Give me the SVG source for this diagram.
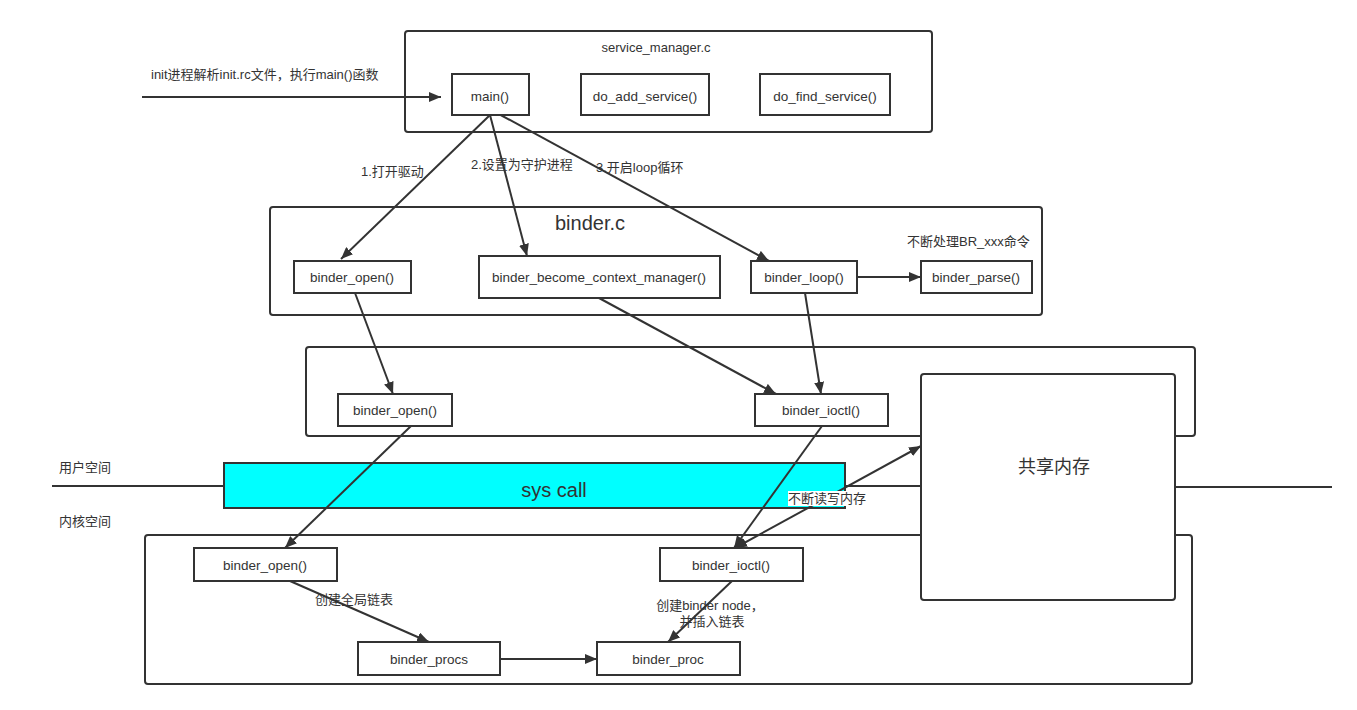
<svg xmlns="http://www.w3.org/2000/svg" width="1357" height="710" viewBox="0 0 1357 710">
<defs>
<marker id="ah" viewBox="0 0 12 10" refX="12" refY="5" markerWidth="12" markerHeight="10" markerUnits="userSpaceOnUse" orient="auto-start-reverse">
<path d="M0,0 L12,5 L0,10 Z" fill="#333"/>
</marker>
<style>
.cont{fill:#fff;stroke:#333;stroke-width:2}
.node{fill:#fff;stroke:#333;stroke-width:2}
.t{font-family:"Liberation Sans","Noto Sans CJK SC",sans-serif;font-size:13.5px;fill:#333;text-anchor:middle;dominant-baseline:central}
.lbl{font-family:"Liberation Sans","Noto Sans CJK SC",sans-serif;font-size:13px;fill:#333;dominant-baseline:central}
.ln{fill:none;stroke:#333;stroke-width:2}
.arr{fill:none;stroke:#333;stroke-width:2;marker-end:url(#ah)}
</style>
</defs>
<rect width="1357" height="710" fill="#fff"/>
<g id="containers">
<rect id="sm-container" class="cont" x="405" y="31" width="527" height="101" rx="3"/>
<rect id="binderc-container" class="cont" x="270" y="207" width="772" height="108" rx="3"/>
<rect id="mid-container" class="cont" x="306" y="347" width="889" height="89" rx="3"/>
<rect id="kernel-container" class="cont" x="145" y="535" width="1047" height="149" rx="3"/>
<text class="t" x="656" y="47" style="font-size:13px">service_manager.c</text>
<text class="t" x="590" y="223" style="font-size:20px">binder.c</text>
</g>
<g id="space-lines">
<line class="ln" x1="52" y1="486" x2="224" y2="486"/>
<line class="ln" x1="845" y1="486" x2="921" y2="486"/>
<line class="ln" x1="1175" y1="487" x2="1332" y2="487"/>
<text class="lbl" x="59" y="467">用户空间</text>
<text class="lbl" x="59" y="521">内核空间</text>
</g>
<g id="syscall">
<rect x="224" y="463" width="621" height="45" fill="#00ffff" stroke="#333" stroke-width="2"/>
<text class="t" x="554" y="490" style="font-size:20px">sys call</text>
</g>
<g id="connectors">
<line class="arr" x1="142" y1="97" x2="441" y2="97"/>
<line class="arr" x1="490" y1="115" x2="341" y2="259"/>
<line class="arr" x1="490" y1="115" x2="527" y2="256"/>
<line class="arr" x1="497" y1="113" x2="769" y2="261"/>
<line class="arr" x1="857" y1="277" x2="921" y2="277"/>
<line class="arr" x1="355" y1="293" x2="393" y2="394"/>
<line class="arr" x1="599" y1="298" x2="776" y2="394"/>
<line class="arr" x1="805" y1="293" x2="821" y2="394"/>
<line class="arr" x1="411" y1="426" x2="285" y2="548"/>
<line class="arr" x1="822" y1="426" x2="734" y2="548"/>
<line class="arr" x1="735" y1="548" x2="921" y2="446" style="marker-start:url(#ah)"/>
<line class="arr" x1="290" y1="581" x2="429" y2="642"/>
<line class="arr" x1="732" y1="581" x2="668" y2="642"/>
<line class="arr" x1="500" y1="659" x2="597" y2="659"/>
<text class="lbl" x="151" y="74">init进程解析init.rc文件，执行main()函数</text>
<text class="lbl" x="361" y="171">1.打开驱动</text>
<text class="lbl" x="471" y="164">2.设置为守护进程</text>
<text class="lbl" x="596" y="167">3.开启loop循环</text>
<text class="lbl" x="907" y="241">不断处理BR_xxx命令</text>
<rect x="788" y="491" width="78" height="15" fill="#fff"/>
<text class="lbl" x="788" y="498">不断读写内存</text>
<text class="lbl" x="315" y="599">创建全局链表</text>
<text class="lbl" x="710" y="605" text-anchor="middle">创建binder node，</text>
<text class="lbl" x="712" y="621" text-anchor="middle">并插入链表</text>
</g>
<g id="shared-memory">
<rect class="node" x="921" y="374" width="254" height="226" rx="3"/>
<text class="t" x="1054" y="467" style="font-size:18px">共享内存</text>
</g>
<g id="main"><rect class="node" x="452" y="74" width="77" height="41"/><text class="t" x="490" y="96">main()</text></g>
<g id="do_add_service"><rect class="node" x="581" y="74" width="128" height="41"/><text class="t" x="645" y="96">do_add_service()</text></g>
<g id="do_find_service"><rect class="node" x="760" y="74" width="130" height="41"/><text class="t" x="825" y="96">do_find_service()</text></g>
<g id="binder_open_1"><rect class="node" x="294" y="261" width="117" height="32"/><text class="t" x="352" y="277">binder_open()</text></g>
<g id="binder_become_context_manager"><rect class="node" x="479" y="256" width="241" height="42"/><text class="t" x="599" y="277">binder_become_context_manager()</text></g>
<g id="binder_loop"><rect class="node" x="751" y="261" width="106" height="32"/><text class="t" x="804" y="277">binder_loop()</text></g>
<g id="binder_parse"><rect class="node" x="921" y="261" width="111" height="32"/><text class="t" x="976" y="277">binder_parse()</text></g>
<g id="binder_open_2"><rect class="node" x="338" y="394" width="114" height="32"/><text class="t" x="395" y="410">binder_open()</text></g>
<g id="binder_ioctl_2"><rect class="node" x="755" y="394" width="133" height="32"/><text class="t" x="821" y="410">binder_ioctl()</text></g>
<g id="binder_open_3"><rect class="node" x="194" y="548" width="143" height="33"/><text class="t" x="265" y="565">binder_open()</text></g>
<g id="binder_ioctl_3"><rect class="node" x="660" y="548" width="143" height="33"/><text class="t" x="731" y="565">binder_ioctl()</text></g>
<g id="binder_procs"><rect class="node" x="358" y="642" width="142" height="33"/><text class="t" x="429" y="659">binder_procs</text></g>
<g id="binder_proc"><rect class="node" x="597" y="642" width="143" height="33"/><text class="t" x="668" y="659">binder_proc</text></g>
</svg>
